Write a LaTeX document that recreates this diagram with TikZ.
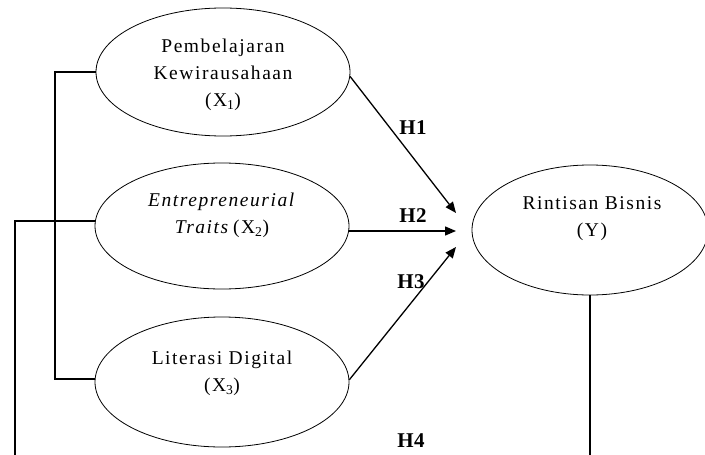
\documentclass[tikz,border=0pt]{standalone}
\usepackage{fontspec}
\setmainfont{Liberation Serif}[LetterSpace=8]
\newfontfamily\hypfont{Liberation Serif}[LetterSpace=3]
\usetikzlibrary{shapes.geometric,arrows.meta}
\begin{document}
\begin{tikzpicture}[x=1pt,y=-1pt,
  var/.style={draw, ellipse, line width=0.8pt, minimum width=254pt, minimum height=128pt, inner sep=0pt},
  vtext/.style={align=center, font=\fontsize{19.5}{27}\selectfont, inner sep=0pt},
  hyp/.style={font=\hypfont\fontsize{21}{22}\selectfont\bfseries, inner sep=0pt},
  arr/.style={-{Triangle[length=11pt,width=9pt]}, line width=1.3pt},
  link/.style={line width=2pt}]
\useasboundingbox (0,0) rectangle (705,455);
\begin{scope}
\clip (0,0) rectangle (705,455);
% latent variables
\node[var] (X1) at (223,72) {};
\node[vtext] (X1t) at (223,75) {Pembelajaran\\Kewirausahaan\\(X\textsubscript{1})};
\node[var, minimum height=126pt] (X2) at (222,226) {};
\node[vtext] (X2t) at (222,215) {\textit{Entrepreneurial}\\\textit{Traits}\,(X\textsubscript{2})};
\node[var, minimum height=130pt] (X3) at (222,382) {};
\node[vtext] (X3t) at (222,373) {Literasi Digital\\(X\textsubscript{3})};
\node[var, minimum width=236pt, minimum height=130pt] (Y) at (590,230) {};
\node[vtext] (Yt) at (592,219) {Rintisan Bisnis\\(Y)};
% arrow end points
\coordinate (t1) at (456,213);
\coordinate (t2) at (456,231);
\coordinate (t3) at (456,247);
\coordinate (b2) at (15,460);
\coordinate (bY) at (590,460);
% hypotheses
\draw[arr] (X1.-2.5) -- (t1);
\draw[arr] ([yshift=-5pt]X2.east) -- (t2);
\draw[arr] (X3.1) -- (t3);
\node[hyp] (H1) at (413,128) {H1};
\node[hyp] (H2) at (413,216) {H2};
\node[hyp] (H3) at (411,282) {H3};
\node[hyp] (H4) at (411,441) {H4};
% correlation links
\draw[link] (X1.west) -- ++(-41,0) |- ([yshift=3pt]X3.west);
\draw[link] ([yshift=5pt]X2.west) -| (b2);
\draw[link] (Y.south) -- (bY);
\end{scope}
\end{tikzpicture}
\end{document}
